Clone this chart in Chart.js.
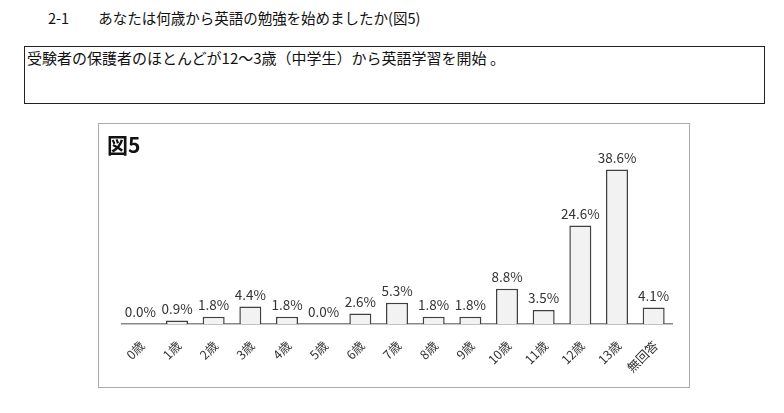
<!DOCTYPE html>
<html>
<head>
<meta charset="utf-8">
<script src="https://cdn.jsdelivr.net/npm/chart.js@4"></script>
<style>
  body { margin: 0; background: #fff; font-family: "Noto Sans CJK JP", sans-serif; }
  #page { position: relative; width: 784px; height: 413px; }
  #q { position: absolute; left: 48px; top: 7px; font-size: 14.5px; color: #111; white-space: pre; }
  #note { position: absolute; left: 24px; top: 46px; width: 739px; height: 56px; border: 1.5px solid #222; }
  #note span { position: absolute; left: 2px; top: 0px; font-size: 15px; color: #111; white-space: pre; }
  #frame { position: absolute; left: 98px; top: 123px; width: 590px; height: 263px; border: 1.5px solid #aaa; }
  #fig { position: absolute; left: 8px; top: 5px; font-size: 21px; font-weight: bold; color: #111; }
  #box { position: absolute; left: 0; top: 0; width: 590px; height: 263px; }
</style>
</head>
<body>
<div id="page">
  <div id="q">2-1　　あなたは何歳から英語の勉強を始めましたか(図5)</div>
  <div id="note"><span>受験者の保護者のほとんどが12～3歳（中学生）から英語学習を開始 。</span></div>
  <div id="frame">
    <div id="box"><canvas id="myChart"></canvas></div>
    <div id="fig">図5</div>
  </div>
</div>
<script>
// 開始年齢
let labels = ['0歳','1歳','2歳','3歳','4歳','5歳','6歳','7歳','8歳','9歳','10歳','11歳','12歳','13歳','無回答'];
let percents = [0.0, 0.9, 1.8, 4.4, 1.8, 0.0, 2.6, 5.3, 1.8, 1.8, 8.8, 3.5, 24.6, 38.6, 4.1];

// bar labels like 38.6%
const valueLabels = {
  id: 'valueLabels',
  afterDatasetsDraw(chart) {
    const ctx = chart.ctx;
    const meta = chart.getDatasetMeta(0);
    ctx.save();
    ctx.font = '13.5px "Noto Sans CJK JP"';
    ctx.fillStyle = '#333';
    ctx.textAlign = 'center';
    ctx.textBaseline = 'bottom';
    meta.data.forEach(function(bar, i) {
      ctx.fillText(percents[i].toFixed(1) + '%', bar.x, bar.y - 5);
    });
    ctx.restore();
  }
};

var ctx = document.getElementById('myChart').getContext('2d');
var myChart = new Chart(ctx, {
  type: 'bar',
  data: {
    labels: labels,
    datasets: [{
      data: percents,
      backgroundColor: '#f2f2f2',
      borderColor: '#404040',
      borderWidth: 1.5,
      barPercentage: 0.6,
      categoryPercentage: 1.0
    }]
  },
  plugins: [valueLabels],
  options: {
    responsive: true,
    maintainAspectRatio: false,
    animation: false,
    layout: { padding: { top: 20, left: 23, right: 17, bottom: 0 } },
    plugins: { legend: { display: false }, tooltip: { enabled: false } },
    scales: {
      x: {
        grid: { display: false, drawTicks: false },
        border: { color: '#888', width: 1.5 },
        ticks: {
          color: '#333',
          font: { size: 12.5, family: '"Noto Sans CJK JP"' },
          minRotation: 45,
          maxRotation: 45,
          padding: 14,
          labelOffset: 2
        },
        afterFit: function(s) { s.height = 63; }
      },
      y: {
        display: false,
        min: 0,
        max: 45
      }
    }
  }
});
</script>
</body>
</html>
